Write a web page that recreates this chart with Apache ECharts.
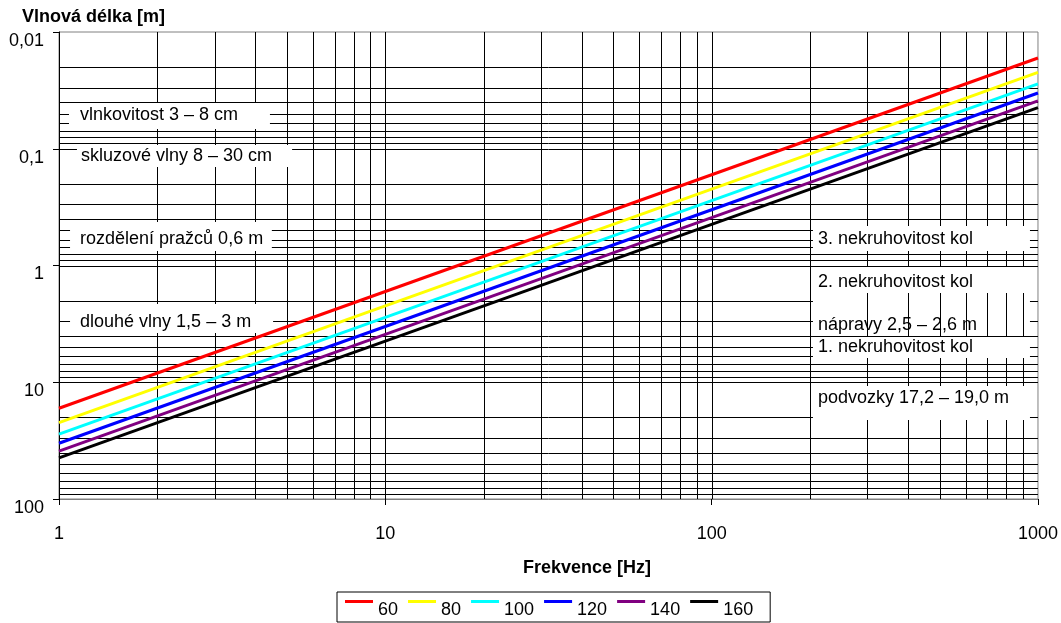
<!DOCTYPE html>
<html>
<head>
<meta charset="utf-8">
<script src="https://cdn.jsdelivr.net/npm/echarts@6/dist/echarts.min.js"></script>
<style>
html,body{margin:0;padding:0;background:#fff;}
#chart{width:1061px;height:623px;}
</style>
</head>
<body>
<div id="chart"></div>
<script>
// ---- data ----
const speeds = ['60', '80', '100', '120', '140', '160'];          // km/h
const freqEnds = [1, 1000];                                        // Hz
const waveAtStart = [16.7, 22.2, 27.8, 33.3, 38.9, 44.4];          // m at 1 Hz
const waveAtEnd = [0.0167, 0.0222, 0.0278, 0.0333, 0.0389, 0.0444];// m at 1000 Hz
const xTickLabels = ['1', '10', '100', '1000'];
const yTickLabels = ['0,01', '0,1', '1', '10', '100'];
const annotationTexts = [
  'vlnkovitost 3 – 8 cm',
  'skluzové vlny 8 – 30 cm',
  'rozdělení pražců 0,6 m',
  'dlouhé vlny 1,5 – 3 m',
  '3. nekruhovitost kol',
  '2. nekruhovitost kol',
  'nápravy 2,5 – 2,6 m',
  '1. nekruhovitost kol',
  'podvozky 17,2 – 19,0 m'
];
const xTitle = 'Frekvence [Hz]';
const yTitle = 'Vlnová délka [m]';

// ---- layout / style ----
const FONT = '"Liberation Sans", Arial, Helvetica, sans-serif';
const colors = ['#ff0000', '#ffff00', '#00ffff', '#0000ff', '#800080', '#000000'];
// annotation boxes in data coordinates: [x1, x2, y1, y2, labelOffsetX, labelOffsetY, layer]
const annotationLayout = [
  [1.073, 4.43, 0.0406, 0.0677, 11, -1, 'top'],
  [1.135, 5.18, 0.0929, 0.1433, 4, 0, 'top'],
  [1.081, 4.49, 0.424, 0.751, 10, 3, 'top'],
  [1.081, 4.53, 2.137, 3.786, 10, 4, 'top'],
  [204.4, 945, 0.459, 0.751, 5, 1, 'top'],
  [204.4, 945, 1.030, 1.72, 5, 2, 'top'],
  [204.4, 945, 1.825, 3.86, 5, 10, 'under'],
  [204.4, 945, 4.10, 6.20, 5, 0, 'top'],
  [204.4, 945, 10.77, 21.05, 5, -5, 'top']
];

const xMin = freqEnds[0], xMax = freqEnds[1];
const yMin = 0.01, yMax = 100;

function gridValues(min, max) {
  const out = [];
  for (let d = min; d < max * 0.999; d *= 10) {
    for (let m = 1; m <= 9; m++) {
      const v = +(m * d).toPrecision(3);
      if (v > min * 1.0001 && v < max * 0.9999) out.push(v);
    }
  }
  return out;
}
const hVals = gridValues(yMin, yMax);
const vVals = gridValues(xMin, xMax);

function boxData(layer) {
  const res = [];
  annotationLayout.forEach((b, i) => {
    if (b[6] !== layer) return;
    res.push([
      { name: annotationTexts[i], xAxis: b[0], yAxis: b[2],
        label: { offset: [b[4], b[5]] } },
      { xAxis: b[1], yAxis: b[3] }
    ]);
  });
  return res;
}

const markAreaBase = {
  silent: true,
  itemStyle: { color: '#ffffff', borderWidth: 0 },
  emphasis: { disabled: true },
  label: {
    show: true, position: 'insideLeft', distance: 0,
    color: '#000', fontSize: 18, fontFamily: FONT
  },
  animation: false
};

// crisp grid lines drawn through the axes' own scales
function gridLineSeries(name, vals, horizontal, z) {
  return {
    name: name,
    type: 'custom',
    z: z,
    silent: true,
    animation: false,
    clip: true,
    encode: { x: 0, y: 1 },
    data: vals.map(v => horizontal ? [xMin, v] : [v, yMin]),
    renderItem: function (params, api) {
      const cs = params.coordSys;
      const p = api.coord([api.value(0), api.value(1)]);
      let shape;
      if (horizontal) {
        const y = Math.round(p[1]) + 0.5;
        shape = { x1: cs.x, y1: y, x2: cs.x + cs.width, y2: y };
      } else {
        const x = Math.round(p[0]) + 0.5;
        shape = { x1: x, y1: cs.y, x2: x, y2: cs.y + cs.height };
      }
      return { type: 'line', shape: shape, style: { stroke: '#000', lineWidth: 1 } };
    }
  };
}

const series = [
  gridLineSeries('_h', hVals, true, 1),
  { name: '_b1', type: 'line', data: [], markArea: Object.assign({}, markAreaBase, { z: 2, data: boxData('under') }) },
  gridLineSeries('_v', vVals, false, 3),
  { name: '_b2', type: 'line', data: [], markArea: Object.assign({}, markAreaBase, { z: 4, data: boxData('top') }) }
];
speeds.forEach((s, i) => {
  series.push({
    name: s,
    type: 'line',
    z: 10,
    showSymbol: false,
    symbol: 'none',
    silent: true,
    animation: false,
    color: colors[i],
    lineStyle: { color: colors[i], width: 3 },
    data: [[freqEnds[0], waveAtStart[i]], [freqEnds[1], waveAtEnd[i]]]
  });
});

const LEG_ICON = 'path://M0,0L28,0L28,3L0,3Z M0,20L28,20';

const chart = echarts.init(document.getElementById('chart'), null, { renderer: 'canvas' });
chart.setOption({
  backgroundColor: '#ffffff',
  animation: false,
  textStyle: { fontFamily: FONT },
  grid: {
    left: 59, top: 32, right: 23, bottom: 124,
    show: true, borderColor: '#808080', borderWidth: 1, backgroundColor: 'transparent'
  },
  xAxis: {
    type: 'log', logBase: 10, min: xMin, max: xMax,
    axisLine: { show: true, lineStyle: { color: '#808080', width: 1 } },
    axisTick: { show: true, length: 6, lineStyle: { color: '#000' } },
    minorTick: { show: false },
    splitLine: { show: false },
    axisLabel: {
      showMinLabel: true, showMaxLabel: true,
      margin: 26, fontSize: 18, color: '#000', fontFamily: FONT,
      formatter: v => xTickLabels[Math.round(Math.log10(v) - Math.log10(xMin))] || ''
    }
  },
  yAxis: {
    type: 'log', logBase: 10, min: yMin, max: yMax, inverse: true,
    axisLine: { show: true, onZero: false, lineStyle: { color: '#000', width: 1 } },
    axisTick: { show: true, length: 6, lineStyle: { color: '#000' } },
    minorTick: { show: false },
    splitLine: { show: false },
    axisLabel: {
      showMinLabel: true, showMaxLabel: true,
      margin: 15, fontSize: 18, color: '#000', fontFamily: FONT,
      verticalAlign: 'top',
      formatter: v => yTickLabels[Math.round(Math.log10(v) - Math.log10(yMin))] || ''
    }
  },
  legend: {
    left: 337, top: 592,
    orient: 'horizontal',
    data: speeds.map(s => ({ name: s, icon: LEG_ICON })),
    itemWidth: 28, itemHeight: 20, itemGap: 10,
    padding: [8, 17, 2, 8],
    borderColor: '#000', borderWidth: 1,
    selectedMode: false,
    itemStyle: { borderWidth: 0 },
    textStyle: { fontSize: 18, color: '#000', fontFamily: FONT }
  },
  graphic: [
    { type: 'text', x: 22, y: 17, silent: true,
      style: { text: yTitle, font: 'bold 18px ' + FONT, fill: '#000', verticalAlign: 'middle', align: 'left' } },
    { type: 'text', x: 587, y: 568, silent: true,
      style: { text: xTitle, font: 'bold 18px ' + FONT, fill: '#000', verticalAlign: 'middle', align: 'center' } }
  ],
  series: series
});
</script>
</body>
</html>
